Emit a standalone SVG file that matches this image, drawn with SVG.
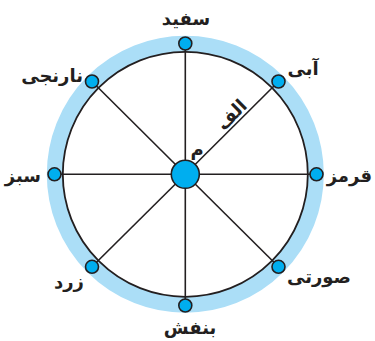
<svg xmlns="http://www.w3.org/2000/svg" width="375" height="341" viewBox="0 0 375 341">
<style>
.lbl{font-family:"DejaVu Sans","Noto Sans",sans-serif;font-weight:bold;font-size:18px;fill:#231f20}
.spoke{stroke:#231f20;stroke-width:1.6;fill:none}
.dot{fill:#00aeef;stroke:#231f20;stroke-width:1.6}
</style>
<rect width="375" height="341" fill="#fff"/>
<g id="ring">
<circle cx="185.3" cy="174.3" r="130.5" fill="none" stroke="#abdef7" stroke-width="16"/>
<circle cx="185.3" cy="174.3" r="122.5" fill="none" stroke="#231f20" stroke-width="1.8"/>
</g>
<g id="connectors">
<line class="spoke" x1="185.3" y1="174.3" x2="185.3" y2="43.5"/>
<line class="spoke" x1="185.3" y1="174.3" x2="185.3" y2="305.5"/>
<line class="spoke" x1="185.3" y1="174.3" x2="54.5" y2="174.3"/>
<line class="spoke" x1="185.3" y1="174.3" x2="316.5" y2="174.3"/>
<line class="spoke" x1="185.3" y1="174.3" x2="278.5" y2="81.5"/>
<line class="spoke" x1="185.3" y1="174.3" x2="92" y2="81.5"/>
<line class="spoke" x1="185.3" y1="174.3" x2="92" y2="266.8"/>
<line class="spoke" x1="185.3" y1="174.3" x2="278.5" y2="266.8"/>
</g>
<g id="n-center"><circle class="dot" cx="185.3" cy="174.3" r="14"/><text class="lbl" x="197" y="156" text-anchor="middle" font-size="17">م</text></g>
<g id="n-top"><circle class="dot" cx="185.3" cy="43.5" r="6.5"/><text class="lbl" x="186" y="25" text-anchor="middle">سفید</text></g>
<g id="n-topright"><circle class="dot" cx="278.5" cy="81.5" r="6.5"/><text class="lbl" x="303" y="75" text-anchor="middle">آبی</text></g>
<g id="n-right"><circle class="dot" cx="316.5" cy="174.3" r="6.5"/><text class="lbl" x="372" y="182" text-anchor="end">قرمز</text></g>
<g id="n-bottomright"><circle class="dot" cx="278.5" cy="266.8" r="6.5"/><text class="lbl" x="319" y="283" text-anchor="middle">صورتی</text></g>
<g id="n-bottom"><circle class="dot" cx="185.3" cy="305.5" r="6.5"/><text class="lbl" x="190" y="334" text-anchor="middle">بنفش</text></g>
<g id="n-bottomleft"><circle class="dot" cx="92" cy="266.8" r="6.5"/><text class="lbl" x="69" y="288" text-anchor="middle">زرد</text></g>
<g id="n-left"><circle class="dot" cx="54.5" cy="174.3" r="6.5"/><text class="lbl" x="41" y="182" text-anchor="end">سبز</text></g>
<g id="n-topleft"><circle class="dot" cx="92" cy="81.5" r="6.5"/><text class="lbl" x="83" y="82" text-anchor="end">نارنجی</text></g>
<text class="lbl" x="0" y="0" text-anchor="middle" font-size="20" transform="translate(236,119) rotate(-45)">الف</text>
</svg>
